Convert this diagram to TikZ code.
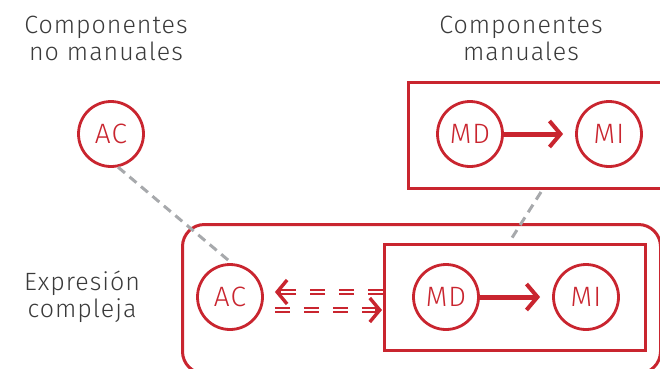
\documentclass[tikz,border=0pt]{standalone}
\usepackage{fontspec}
\setmainfont{Fira Sans}[UprightFont=* Light,LetterSpace=4]
\usetikzlibrary{arrows.meta,calc,positioning}
\definecolor{cred}{HTML}{C9252F}
\definecolor{ctext}{HTML}{3A3A3A}
\definecolor{cgray}{HTML}{A7A9AC}
\tikzset{
  circ/.style={circle,draw=cred,line width=2.8pt,minimum size=65pt,inner sep=0pt,text=cred,font=\fontsize{28}{30}\selectfont},
  boxst/.style={draw=cred,line width=3pt,inner sep=0pt,anchor=north west},
  lbl/.style={text=ctext,align=center,font=\fontsize{25}{27}\selectfont},
  thick arr/.style={draw=cred,line width=5pt,shorten >=12pt,-{Straight Barb[length=11pt,width=26pt,line width=4pt]}},
  gdash/.style={draw=cgray,line width=3pt,dash pattern=on 9pt off 6pt},
  ddash/.style={draw=cred,double=white,double distance=2.4pt,line width=1.8pt,dash pattern=on 15pt off 14pt},
  barb/.style={draw=cred,line width=3.4pt,-{Straight Barb[length=10pt,width=24pt]}}
}
\begin{document}
\begin{tikzpicture}[x=1pt,y=-1pt]
\useasboundingbox (0,0) rectangle (660,368);
\clip (0,0) rectangle (660,368);
% boxes
\node[boxst,minimum width=300pt,minimum height=106pt] (upbox) at (407,81) {};
\node[boxst,rounded corners=22pt,minimum width=478pt,minimum height=149pt] (bigbox) at (181,223) {};
\node[boxst,minimum width=261pt,minimum height=106pt] (inbox) at (383,243) {};
% labels
\node[lbl] (h1) at (106,38) {Componentes\\no manuales};
\node[lbl] (h2) at (521,38) {Componentes\\manuales};
\node[lbl] (h3) at (82,297) {Expresión\\compleja};
% circles
\node[circ,fill=white] (ac1) at (111,134) {AC};
\node[circ] (md1) at (470,134) {MD};
\node[circ] (mi1) at (609,134) {MI};
\node[circ,fill=white] (ac2) at (230,297) {AC};
\node[circ] (md2) at (446,297) {MD};
\node[circ] (mi2) at (586,297) {MI};
% arrows
\draw[thick arr] (md1) -- (mi1);
\draw[thick arr] (md2) -- (mi2);
% gray dashed
\draw[gdash] (ac1.-78) -- (ac2.87);
\draw[gdash] ($(upbox.south west)+(134,2)$) -- ($(inbox.north west)+(127,-2)$);
% double dashed arrows
\coordinate (aU) at ($(ac2.east)+(11,-5)$);
\coordinate (aL) at ($(ac2.east)+(11,13)$);
\draw[ddash] (inbox.west |- aU) -- ($(aU)+(3,0)$);
\draw[barb] ($(aU)+(6,0)$) -- (aU);
\draw[ddash] (aL) -- ($(inbox.west |- aL)+(-3,0)$);
\draw[barb] ($(inbox.west |- aL)+(-8,0)$) -- ($(inbox.west |- aL)+(-1,0)$);
\end{tikzpicture}
\end{document}
